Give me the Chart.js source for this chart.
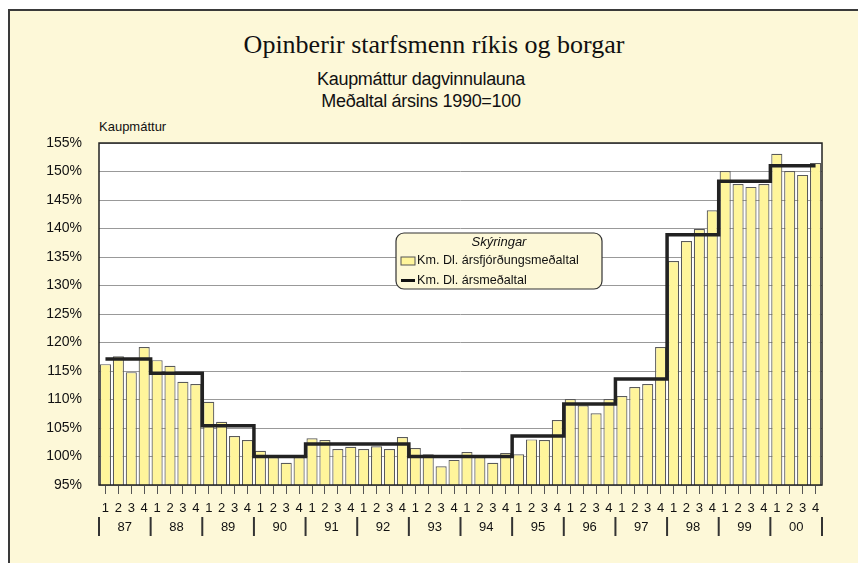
<!DOCTYPE html>
<html>
<head>
<meta charset="utf-8">
<script src="https://cdn.jsdelivr.net/npm/chart.js@4"></script>
<style>
  body { margin: 0; background: #fff; font-family: "Liberation Sans", Arial, sans-serif; }
  #wrap { position: relative; width: 858px; height: 563px; overflow: hidden; }
  #paper { position: absolute; left: 8px; top: 9px; width: 860px; height: 560px;
           background: #fdf8d8; border-top: 2px solid #3a3a3a; border-left: 2px solid #3a3a3a; }
  .t { position: absolute; left: 0; text-align: center; color: #111; white-space: nowrap; }
  #title { top: 30px; width: 868px; font-family: "Liberation Serif", "Times New Roman", serif; font-size: 26px; }
  #sub1 { top: 69px; width: 842px; font-size: 18px; letter-spacing: -0.3px; }
  #sub2 { top: 91px; width: 842px; font-size: 18px; letter-spacing: -0.3px; }
  #ylab { position: absolute; left: 99px; top: 119px; font-size: 13px; color: #111; }
  #box { position: absolute; left: 0; top: 0; width: 858px; height: 563px; }
</style>
</head>
<body>
<div id="wrap">
  <div id="paper"></div>
  <div class="t" id="title">Opinberir starfsmenn ríkis og borgar</div>
  <div class="t" id="sub1">Kaupmáttur dagvinnulauna</div>
  <div class="t" id="sub2">Meðaltal ársins 1990=100</div>
  <div id="ylab">Kaupmáttur</div>
  <div id="box"><canvas id="chart"></canvas></div>
</div>
<script>
// quarter-by-quarter values, 1987 Q1 .. 2000 Q4
const years = ['87', '88', '89', '90', '91', '92', '93', '94', '95', '96', '97', '98', '99', '00'];
const quarters = ['1', '2', '3', '4'];
const quarterValues = [
  116.2, 117.6, 114.8, 119.2,
  116.9, 115.9, 113.1, 112.7,
  109.6, 106.1, 103.6, 102.9,
  101.0, 99.9, 98.9, 99.9,
  103.2, 102.9, 101.3, 101.7,
  101.3, 101.8, 101.3, 103.4,
  101.5, 100.4, 98.3, 99.4,
  100.8, 99.9, 98.9, 100.6,
  100.4, 103.0, 102.9, 106.4,
  110.1, 109.0, 107.6, 110.1,
  110.6, 112.2, 112.7, 119.2,
  134.3, 137.8, 139.9, 143.2,
  150.1, 147.8, 147.3, 147.8,
  153.1, 150.1, 149.4, 151.5
];
const yearValues = [117.1, 114.6, 105.4, 100.0, 102.2, 102.2, 100.0, 100.0, 103.6, 109.2, 113.6, 138.9, 148.3, 151.0];
const yTicks = [95, 100, 105, 110, 115, 120, 125, 130, 135, 140, 145, 150, 155];

const labels = [];
const stepData = [];
years.forEach((y, i) => {
  quarters.forEach(q => {
    labels.push(q);
    stepData.push(yearValues[i]);
  });
});

const sans = '"Liberation Sans", Arial, sans-serif';

// white plot background, frame, year row and the legend box
const decor = {
  id: 'decor',
  beforeDraw(chart) {
    const { ctx, chartArea: a } = chart;
    ctx.save();
    ctx.fillStyle = '#fff';
    ctx.fillRect(a.left, a.top, a.right - a.left, a.bottom - a.top);
    ctx.restore();
  },
  afterDraw(chart) {
    const { ctx, chartArea: a } = chart;
    const x = chart.scales.x;
    ctx.save();
    ctx.strokeStyle = '#222';
    ctx.lineWidth = 1.5;
    ctx.strokeRect(a.left, a.top, a.right - a.left, a.bottom - a.top);

    // year labels with separators
    ctx.fillStyle = '#111';
    ctx.font = '13px ' + sans;
    ctx.textAlign = 'center';
    ctx.textBaseline = 'middle';
    ctx.lineWidth = 2;
    ctx.strokeStyle = '#333';
    years.forEach((y, i) => {
      const c = (x.getPixelForValue(4 * i + 1) + x.getPixelForValue(4 * i + 2)) / 2;
      ctx.fillText(y, c, 527);
      const sx = i === 0 ? a.left : (x.getPixelForValue(4 * i - 1) + x.getPixelForValue(4 * i)) / 2;
      ctx.beginPath(); ctx.moveTo(sx, 517); ctx.lineTo(sx, 536); ctx.stroke();
    });
    ctx.beginPath(); ctx.moveTo(a.right, 517); ctx.lineTo(a.right, 536); ctx.stroke();

    // legend
    const lx = 396, ly = 233, lw = 206, lh = 56;
    ctx.beginPath();
    ctx.roundRect(lx, ly, lw, lh, 8);
    ctx.fillStyle = '#fdf8d8';
    ctx.fill();
    ctx.lineWidth = 1.2;
    ctx.strokeStyle = '#333';
    ctx.stroke();
    ctx.fillStyle = '#111';
    ctx.font = 'italic 13px ' + sans;
    ctx.fillText('Skýringar', lx + lw / 2, ly + 9);
    ctx.font = '12.6px ' + sans;
    ctx.textAlign = 'left';
    ctx.fillStyle = '#fff59b';
    ctx.fillRect(lx + 5, ly + 24, 14, 8);
    ctx.strokeStyle = '#555';
    ctx.lineWidth = 1;
    ctx.strokeRect(lx + 5, ly + 24, 14, 8);
    ctx.fillStyle = '#111';
    ctx.fillText('Km. Dl. ársfjórðungsmeðaltal', lx + 21, ly + 28);
    ctx.fillRect(lx + 5, ly + 46, 14, 3);
    ctx.fillText('Km. Dl. ársmeðaltal', lx + 21, ly + 48);
    ctx.restore();
  }
};

new Chart(document.getElementById('chart'), {
  data: {
    labels: labels,
    datasets: [
      {
        type: 'line',
        label: 'Km. Dl. ársmeðaltal',
        data: stepData,
        stepped: 'middle',
        borderColor: '#222',
        borderWidth: 3.5,
        pointRadius: 0,
        fill: false,
        order: 0
      },
      {
        type: 'bar',
        label: 'Km. Dl. ársfjórðungsmeðaltal',
        data: quarterValues,
        backgroundColor: '#fff59b',
        borderColor: '#5a5a5a',
        borderWidth: 1.2,
        barPercentage: 0.86,
        categoryPercentage: 1,
        order: 1
      }
    ]
  },
  options: {
    responsive: true,
    maintainAspectRatio: false,
    animation: false,
    layout: { padding: { left: 0, top: 143, right: 36, bottom: 0 } },
    plugins: { legend: { display: false }, tooltip: { enabled: false } },
    scales: {
      x: {
        afterFit: s => { s.height = 78; },
        grid: { offset: false, drawOnChartArea: false, drawTicks: true, tickLength: 9, color: '#555' },
        border: { display: false },
        ticks: { color: '#111', font: { size: 13, family: sans }, padding: 7, maxRotation: 0, autoSkip: false }
      },
      y: {
        min: 95,
        max: 155,
        afterFit: s => { s.width = 99; },
        afterBuildTicks: s => { s.ticks = yTicks.map(v => ({ value: v })); },
        grid: { color: '#999', drawTicks: false, lineWidth: 1 },
        border: { display: false },
        ticks: { color: '#111', font: { size: 14, family: sans }, padding: 17, callback: v => v + '%' }
      }
    }
  },
  plugins: [decor]
});
</script>
</body>
</html>
